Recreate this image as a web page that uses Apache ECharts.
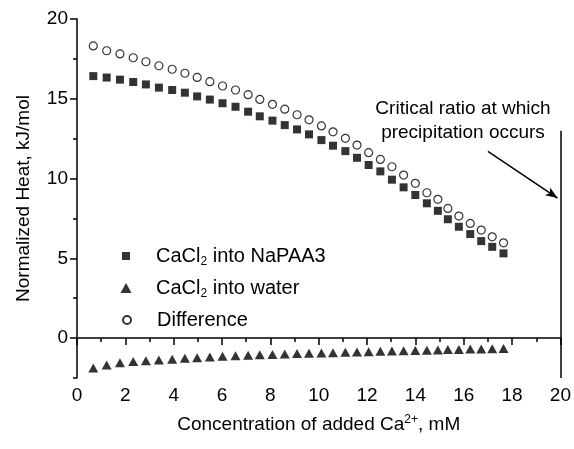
<!DOCTYPE html>
<html><head><meta charset="utf-8">
<script src="https://cdn.jsdelivr.net/npm/echarts@6/dist/echarts.min.js"></script>
<style>html,body{margin:0;padding:0;background:#fff}#c{width:574px;height:449px}</style>
</head><body><div id="c"></div>
<script>
const conc = [0.674,1.227,1.777,2.326,2.851,3.388,3.938,4.463,4.971,5.496,6.021,6.558,7.079,7.562,8.087,8.595,9.103,9.599,10.112,10.591,11.103,11.583,12.066,12.550,13.029,13.512,13.996,14.475,14.930,15.343,15.798,16.269,16.723,17.178,17.645];
const intoNaPAA3 = [16.42,16.33,16.2,16.05,15.9,15.7,15.55,15.38,15.15,14.95,14.72,14.5,14.19,13.9,13.63,13.35,13.08,12.77,12.41,12.06,11.72,11.3,10.85,10.45,9.93,9.45,8.97,8.45,7.98,7.45,6.98,6.52,6.08,5.72,5.31];
const intoWater = [-1.88,-1.68,-1.55,-1.47,-1.42,-1.37,-1.32,-1.27,-1.23,-1.18,-1.14,-1.11,-1.08,-1.05,-1.02,-1.0,-0.97,-0.95,-0.93,-0.91,-0.89,-0.87,-0.85,-0.83,-0.81,-0.79,-0.77,-0.76,-0.74,-0.72,-0.71,-0.69,-0.68,-0.66,-0.65];
const difference = [18.31,18.01,17.81,17.57,17.32,17.07,16.85,16.6,16.34,16.07,15.8,15.55,15.26,14.96,14.65,14.35,14.0,13.68,13.3,12.93,12.52,12.1,11.62,11.2,10.74,10.22,9.7,9.11,8.7,8.13,7.65,7.19,6.77,6.35,5.97];
const yMajorTicks = [0,5,10,15,20];
const yMinorTicks = [-2.5,2.5,7.5,12.5,17.5];
const criticalX = 20;
const criticalLineY = [-2.5, 13];
const arrowFrom = [17.0, 11.7];
const arrowTo = [19.88, 8.78];
const seriesNames = ['CaCl2 into NaPAA3','CaCl2 into water','Difference'];

const FONT = 'Liberation Sans, Arial, sans-serif';
const pairs = arr => conc.map((x,i)=>[x,arr[i]]);

function mkRich(gap){
  return {
    n:{fontFamily:FONT,fontSize:20,color:'#000',lineHeight:24},
    s:{fontFamily:FONT,fontSize:12,color:'#000',lineHeight:24,verticalAlign:'bottom',padding:[10,0,0,0]},
    gap:{width:gap}
  };
}
function legendFmt(name){
  if(name==='Difference') return '{gap|}{n|Difference}';
  const rest = name.replace('CaCl2','');
  return '{gap|}{n|CaCl}{s|2}{n|'+rest+'}';
}
function mkLegend(name, top, w, h){
  return {data:[name], left:126 - w/2, top:top, orient:'vertical', itemWidth:w, itemHeight:h,
    formatter:legendFmt, textStyle:{rich:mkRich(156 - (126 + w/2) - 5)}, padding:0, selectedMode:false};
}

const chart = echarts.init(document.getElementById('c'), null, {renderer:'canvas'});
chart.setOption({
  animation:false,
  backgroundColor:'#fff',
  grid:{left:77,right:13,top:19,bottom:71,containLabel:false},
  legend:[
    mkLegend(seriesNames[0], 246, 8, 8),
    mkLegend(seriesNames[1], 278, 11, 10),
    mkLegend(seriesNames[2], 310, 8, 8)
  ],
  xAxis:{type:'value',min:0,max:20,interval:2,
    name:'Concentration of added Ca{sup|2+}, mM',nameLocation:'middle',nameGap:36,
    nameTextStyle:{fontFamily:FONT,fontSize:19,color:'#000',
      rich:{sup:{fontFamily:FONT,fontSize:12,color:'#000',verticalAlign:'top',padding:[0,0,10,0]}}},
    axisLine:{lineStyle:{color:'#000',width:1.5}},
    axisTick:{inside:false,length:7,lineStyle:{color:'#000',width:1.5}},
    minorTick:{show:true,splitNumber:2,length:4,lineStyle:{color:'#000',width:1.5}},
    axisLabel:{fontFamily:FONT,fontSize:19,color:'#000',margin:8},
    splitLine:{show:false},minorSplitLine:{show:false}},
  yAxis:[
    {type:'value',min:-2.5,max:20,position:'left',
      name:'Normalized Heat, kJ/mol',nameLocation:'middle',nameGap:44,
      nameTextStyle:{fontFamily:FONT,fontSize:19,color:'#000'},
      axisLine:{show:true,lineStyle:{color:'#000',width:1.5}},
      axisTick:{show:true,length:7,customValues:yMajorTicks,lineStyle:{color:'#000',width:1.5}},
      axisLabel:{fontFamily:FONT,fontSize:19,color:'#000',margin:9,customValues:yMajorTicks},
      splitLine:{show:false}},
    {type:'value',min:-2.5,max:20,position:'left',
      axisLine:{show:false},
      axisTick:{show:true,length:4,customValues:yMinorTicks,lineStyle:{color:'#000',width:1.5}},
      axisLabel:{show:false},splitLine:{show:false}}
  ],
  graphic:[
    {type:'text',style:{text:'Critical ratio at which\nprecipitation occurs',
      fontFamily:FONT,fontSize:19,fill:'#000',align:'center',lineHeight:24},
      x:463,y:97}
  ],
  series:[
    {name:seriesNames[0],type:'scatter',data:pairs(intoNaPAA3),symbol:'rect',symbolSize:8,
      itemStyle:{color:'#000'},
      markLine:{silent:true,symbol:['none','none'],label:{show:false},
        lineStyle:{color:'#000',width:1.5,type:'solid'},
        data:[[{coord:[criticalX,criticalLineY[0]]},{coord:[criticalX,criticalLineY[1]]}]]}},
    {name:seriesNames[1],type:'scatter',data:pairs(intoWater),symbol:'triangle',symbolSize:[10,9],
      itemStyle:{color:'#000'},
      markLine:{silent:true,symbol:['none','arrow'],symbolSize:[7,12],label:{show:false},
        lineStyle:{color:'#000',width:1.5,type:'solid'},
        data:[[{coord:arrowFrom},{coord:arrowTo}]]}},
    {name:seriesNames[2],type:'scatter',data:pairs(difference),symbol:'circle',symbolSize:8,
      itemStyle:{color:'#fff',borderColor:'#000',borderWidth:1.2}}
  ]
});
</script></body></html>
